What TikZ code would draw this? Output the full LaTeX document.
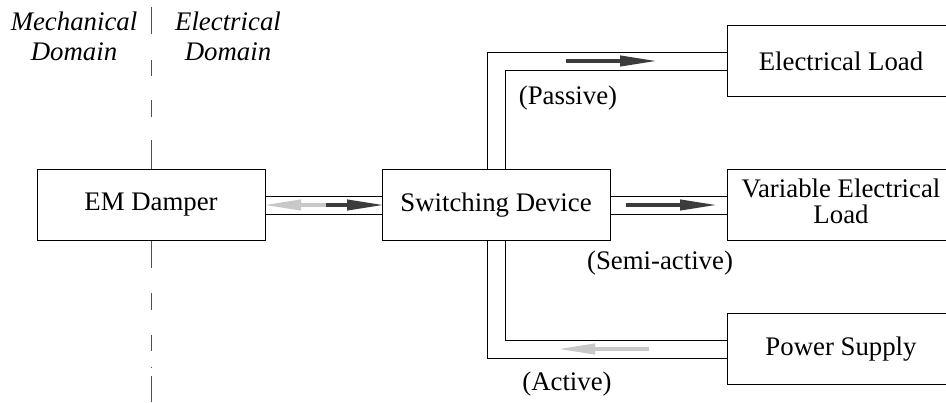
\documentclass[tikz,border=0pt]{standalone}
\usepackage{fontspec}
\setmainfont{Liberation Serif}
\usetikzlibrary{arrows.meta}
\definecolor{darkarr}{HTML}{3C3C3C}
\definecolor{lightarr}{HTML}{C8C8C8}
\definecolor{dashgray}{HTML}{505050}
\begin{document}
\begin{tikzpicture}[x=0.5pt,y=-0.5pt,
  every node/.style={font=\fontsize{13.4}{13}\selectfont},
  blk/.style={draw=black, line width=0.5pt, fill=white, inner sep=1pt,
    minimum width=114pt, minimum height=35.5pt, align=center},
  wire/.style={draw=black, line width=0.5pt},
  darkflow/.style={draw=darkarr, line width=2pt, -{Triangle[length=19pt,width=5pt]}},
  lightflow/.style={draw=lightarr, line width=2pt, -{Triangle[length=19pt,width=5pt]}},
  domlbl/.style={font=\fontsize{13.4}{15}\selectfont\itshape, align=center},
  modelbl/.style={inner sep=0pt}
]
\useasboundingbox (0,0) rectangle (946,402);
\clip (0,0) rectangle (946,402);

% domain separator
\foreach \a/\b in {7/34, 60/76, 100/117, 140/170, 240/268, 293/310, 335/351, 366.5/367.5, 376/402}
  \draw[dashgray, line width=0.5pt] (151,\a) -- (151,\b);

% labels of domains
\node[domlbl] (mech) at (74,36) {Mechanical\\Domain};
\node[domlbl] (elec) at (228,36) {Electrical\\Domain};

% blocks
\node[blk] (em) at (151,205) {EM Damper};
\node[blk] (sw) at (496,205) {Switching Device};
\node[blk] (el) at (841,61) {Electrical Load};
\node[blk] (vel) at (841,205) {\raisebox{2pt}{\begin{tabular}{@{}c@{}}Variable Electrical\\Load\end{tabular}}};
\node[blk] (ps) at (841,349) {Power Supply};

% double channels
\draw[wire] ([yshift=4.5pt]em.east) -- ([yshift=4.5pt]sw.west);
\draw[wire] ([yshift=-4.5pt]em.east) -- ([yshift=-4.5pt]sw.west);
\draw[wire] ([yshift=4.5pt]sw.east) -- ([yshift=4.5pt]vel.west);
\draw[wire] ([yshift=-4.5pt]sw.east) -- ([yshift=-4.5pt]vel.west);

\draw[wire] ([xshift=-4.5pt]sw.north) |- ([yshift=4.5pt]el.west);
\draw[wire] ([xshift=4.5pt]sw.north) |- ([yshift=-4.5pt]el.west);
\draw[wire] ([xshift=4.5pt]sw.south) |- ([yshift=4.5pt]ps.west);
\draw[wire] ([xshift=-4.5pt]sw.south) |- ([yshift=-4.5pt]ps.west);

% flow arrows
\draw[lightflow] (326,205) -- (263,205);
\draw[darkflow] (326,205) -- (385,205);
\draw[darkflow] (626,205) -- (718,205);
\draw[darkflow] (566,61) -- (658,61);
\draw[lightflow] (649,349) -- (557,349);

% mode labels
\node[modelbl] (passive) at (568,98) {(Passive)};
\node[modelbl] (semi) at (660,263) {(Semi-active)};
\node[modelbl] (active) at (567,384) {(Active)};
\end{tikzpicture}
\end{document}
